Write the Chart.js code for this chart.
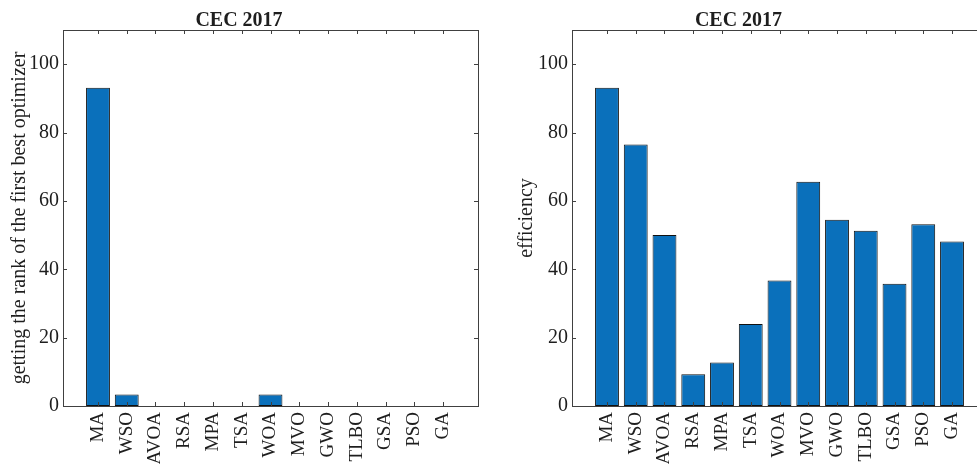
<!DOCTYPE html>
<html lang="en">
<head>
    <meta charset="UTF-8">
    <title>CEC 2017</title>
    <script src="https://cdn.jsdelivr.net/npm/chart.js"></script>
    <style>
        html, body { margin: 0; padding: 0; background: #fff; overflow: hidden; }
        #wrap { position: relative; width: 977px; height: 464px; overflow: hidden; }
        canvas { position: absolute; top: 0; }
        #left { left: 0; }
        #right { left: 490px; }
    </style>
</head>
<body>
<div id="wrap">
    <canvas id="left" width="490" height="464"></canvas>
    <canvas id="right" width="510" height="464"></canvas>
</div>
<script>
    // Data
    const categories = ['MA', 'WSO', 'AVOA', 'RSA', 'MPA', 'TSA', 'WOA', 'MVO', 'GWO', 'TLBO', 'GSA', 'PSO', 'GA'];
    const firstBestRank = [93.1, 3.4, 0, 0, 0, 0, 3.4, 0, 0, 0, 0, 0, 0];
    const efficiency = [93.1, 76.5, 50.0, 9.3, 12.7, 24.0, 36.7, 65.6, 54.5, 51.3, 35.8, 53.2, 48.1];
    const yTicks = [0, 20, 40, 60, 80, 100];

    const textColor = '#1e1e1e';
    const axisColor = '#404040';
    const barColor = '#0a70bb';

    // MATLAB style box with inward ticks on all four sides
    const boxPlugin = {
        id: 'box',
        afterDraw(chart) {
            const ctx = chart.ctx;
            const a = chart.chartArea;
            const xs = chart.scales.x;
            const ys = chart.scales.y;
            const len = 4;
            ctx.save();
            ctx.strokeStyle = axisColor;
            ctx.lineWidth = 1;
            ctx.strokeRect(Math.round(a.left) + 0.5, Math.round(a.top) + 0.5,
                Math.round(a.right - a.left), Math.round(a.bottom - a.top));
            ctx.beginPath();
            xs.ticks.forEach(t => {
                const x = Math.round(xs.getPixelForValue(t.value)) + 0.5;
                ctx.moveTo(x, a.bottom); ctx.lineTo(x, a.bottom - len);
                ctx.moveTo(x, a.top); ctx.lineTo(x, a.top + len);
            });
            ys.ticks.forEach(t => {
                const y = Math.round(ys.getPixelForValue(t.value)) + 0.5;
                ctx.moveTo(a.left, y); ctx.lineTo(a.left + len, y);
                ctx.moveTo(a.right, y); ctx.lineTo(a.right - len, y);
            });
            ctx.stroke();
            ctx.restore();
        }
    };

    function makeChart(id, values, yLabel, yWidth, padRight, labelPad) {
        const ctx = document.getElementById(id).getContext('2d');
        return new Chart(ctx, {
            type: 'bar',
            data: {
                datasets: [{
                    data: values.map((v, i) => ({ x: i + 1, y: v })),
                    backgroundColor: barColor,
                    borderColor: '#111111',
                    borderWidth: 1,
                    borderSkipped: false,
                    barPercentage: 0.83,
                    categoryPercentage: 1.0
                }]
            },
            options: {
                responsive: false,
                animation: false,
                layout: { padding: { left: 0, right: padRight, top: 0, bottom: 0 } },
                plugins: {
                    legend: { display: false },
                    tooltip: { enabled: false },
                    title: {
                        display: true,
                        text: 'CEC 2017',
                        color: textColor,
                        font: { family: 'Liberation Serif', size: 20, weight: 'bold', lineHeight: 1.0 },
                        padding: { top: 11, bottom: -1 }
                    }
                },
                scales: {
                    x: {
                        type: 'linear',
                        offset: false,
                        min: -0.217,
                        max: 14.217,
                        grid: { display: false, drawTicks: false },
                        border: { display: false },
                        afterBuildTicks(scale) {
                            scale.ticks = categories.map((c, i) => ({ value: i + 1 }));
                        },
                        afterFit(scale) { scale.height = 58; },
                        ticks: {
                            autoSkip: false,
                            minRotation: 90,
                            maxRotation: 90,
                            padding: 6,
                            color: textColor,
                            font: { family: 'Liberation Serif', size: 19 },
                            callback: v => categories[v - 1]
                        }
                    },
                    y: {
                        min: 0,
                        max: 110,
                        grid: { display: false, drawTicks: false },
                        border: { display: false },
                        afterBuildTicks(scale) {
                            scale.ticks = yTicks.map(v => ({ value: v }));
                        },
                        afterFit(scale) { scale.width = yWidth; },
                        ticks: {
                            padding: 4,
                            color: textColor,
                            font: { family: 'Liberation Serif', size: 20 }
                        },
                        title: {
                            display: true,
                            text: yLabel,
                            color: textColor,
                            font: { family: 'Liberation Serif', size: 20 },
                            padding: { top: labelPad, bottom: 0 }
                        }
                    }
                }
            },
            plugins: [boxPlugin]
        });
    }

    makeChart('left', firstBestRank, 'getting the rank of the first best optimizer', 63, 12, 8);
    makeChart('right', efficiency, 'efficiency', 82, 13, 25);
</script>
</body>
</html>
